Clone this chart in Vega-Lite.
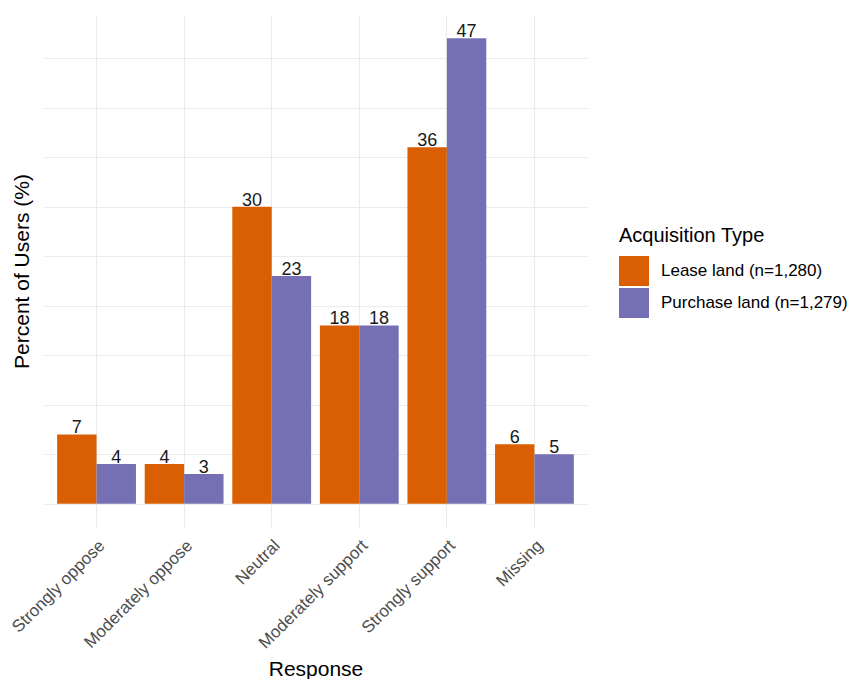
{
  "$schema": "https://vega.github.io/schema/vega-lite/v6.json",
  "autosize": {"type": "none"},
  "padding": {"left": 44, "top": 15, "right": 270, "bottom": 152},
  "width": 543,
  "height": 512,
  "background": "white",
  "config": {
    "view": {"stroke": null},
    "font": "Liberation Sans",
    "axis": {"gridColor": "#EBEBEB", "gridWidth": 1.1, "domain": false, "ticks": false}
  },
  "data": {
    "values": [
      {"response": "Strongly oppose", "type": "Lease land (n=1,280)", "pct": 7},
      {"response": "Strongly oppose", "type": "Purchase land (n=1,279)", "pct": 4},
      {"response": "Moderately oppose", "type": "Lease land (n=1,280)", "pct": 4},
      {"response": "Moderately oppose", "type": "Purchase land (n=1,279)", "pct": 3},
      {"response": "Neutral", "type": "Lease land (n=1,280)", "pct": 30},
      {"response": "Neutral", "type": "Purchase land (n=1,279)", "pct": 23},
      {"response": "Moderately support", "type": "Lease land (n=1,280)", "pct": 18},
      {"response": "Moderately support", "type": "Purchase land (n=1,279)", "pct": 18},
      {"response": "Strongly support", "type": "Lease land (n=1,280)", "pct": 36},
      {"response": "Strongly support", "type": "Purchase land (n=1,279)", "pct": 47},
      {"response": "Missing", "type": "Lease land (n=1,280)", "pct": 6},
      {"response": "Missing", "type": "Purchase land (n=1,279)", "pct": 5}
    ]
  },
  "encoding": {
    "x": {
      "field": "response",
      "type": "nominal",
      "sort": ["Strongly oppose", "Moderately oppose", "Neutral", "Moderately support", "Strongly support", "Missing"],
      "scale": {"paddingInner": 0.1, "paddingOuter": 0.15},
      "axis": {
        "title": "Response",
        "titleFontSize": 21,
        "titleFontWeight": "normal",
        "titleColor": "#000000",
        "titleY": 148,
        "titleBaseline": "alphabetic",
        "labelAngle": -45,
        "labelAlign": "right",
        "labelBaseline": "top",
        "labelFontSize": 17,
        "labelColor": "#4D4D4D",
        "labelPadding": 10,
        "labelLimit": 0,
        "grid": true,
        "bandPosition": 0.5
      }
    },
    "xOffset": {
      "field": "type",
      "type": "nominal",
      "scale": {"paddingInner": 0, "paddingOuter": 0}
    },
    "y": {
      "field": "pct",
      "type": "quantitative",
      "scale": {"domain": [-2.35, 49.35], "nice": false, "zero": false},
      "axis": {
        "title": "Percent of Users (%)",
        "titleFontSize": 21,
        "titleFontWeight": "normal",
        "titleColor": "#000000",
        "titleX": -22,
        "titleBaseline": "middle",
        "labels": false,
        "values": [0, 5, 10, 15, 20, 25, 30, 35, 40, 45],
        "grid": true
      }
    }
  },
  "layer": [
    {
      "mark": {"type": "bar"},
      "encoding": {
        "y2": {"datum": 0},
        "color": {
          "field": "type",
          "type": "nominal",
          "scale": {"range": ["#D95F02", "#7570B3"]},
          "legend": {
            "title": "Acquisition Type",
            "orient": "none",
            "legendX": 575,
            "legendY": 211,
            "titleFontSize": 20,
            "titleFontWeight": "normal",
            "titleColor": "#000000",
            "titlePadding": 10,
            "labelFontSize": 17,
            "labelColor": "#000000",
            "labelOffset": 12,
            "labelLimit": 0,
            "symbolType": "square",
            "symbolSize": 900,
            "symbolStrokeWidth": 0,
            "rowPadding": 2
          }
        }
      }
    },
    {
      "mark": {"type": "text", "baseline": "alphabetic", "dy": -1, "fontSize": 18, "color": "#1A1A1A"},
      "encoding": {"text": {"field": "pct", "type": "quantitative"}}
    }
  ]
}
